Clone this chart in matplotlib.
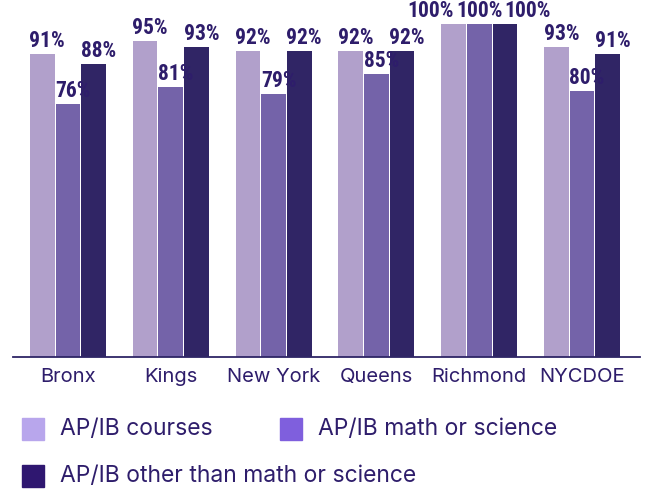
import matplotlib
matplotlib.use("Agg")
import matplotlib.pyplot as plt
from matplotlib.patches import Rectangle
import numpy as np

boroughs = ["Bronx", "Kings", "New York", "Queens", "Richmond", "NYCDOE"]
series = ["AP/IB courses", "AP/IB math or science", "AP/IB other than math or science"]
courses = [91, 95, 92, 92, 100, 93]
math_sci = [76, 81, 79, 85, 100, 80]
other = [88, 93, 92, 92, 100, 91]

bar_colors = ["#b1a0cb", "#7463a9", "#302565"]
legend_colors = ["#b8a6ec", "#7f5fdd", "#2f1770"]
text_color = "#2e1d6b"

fig = plt.figure(figsize=(6.46, 4.91), dpi=100)
ax = fig.add_axes([13 / 646, 134 / 491, 627 / 646, 357 / 491])

x = np.arange(len(boroughs))
width = 0.24
step = 0.25
for i, vals in enumerate([courses, math_sci, other]):
    pos = x + (i - 1) * step
    ax.bar(pos, vals, width=width, color=bar_colors[i], zorder=2)
    for px, v in zip(pos, vals):
        label = "{}%".format(v)
        # three-digit labels are wider than a bar, push the outer ones apart
        dx = (i - 1) * 23 if len(label) > 3 else 5
        ax.annotate(label, (px, v), xytext=(dx, 2), textcoords="offset pixels",
                    ha="center", va="bottom", fontsize=15.5, fontweight="bold",
                    family=["Roboto Condensed", "DejaVu Sans"], color=text_color)

ax.set_xlim(-0.535, 5.564)
ax.set_ylim(0, 107.2)
ax.set_xticks(x)
ax.set_xticklabels(boroughs, family="Inter", fontsize=14.5, color=text_color)
ax.tick_params(axis="x", length=0, pad=8)
ax.set_yticks([])
for s in ["top", "right", "left"]:
    ax.spines[s].set_visible(False)
ax.spines["bottom"].set_color("#2e2566")
ax.spines["bottom"].set_linewidth(1.3)
ax.spines["bottom"].set_zorder(3)

# legend drawn by hand: two items on the first row, one on the second
legend_spots = [(22, 418), (280, 418), (22, 465)]
for (lx, ly), name, c in zip(legend_spots, series, legend_colors):
    fig.add_artist(Rectangle((lx / 646, 1 - (ly + 22) / 491), 22 / 646, 22 / 491,
                             transform=fig.transFigure, color=c))
    fig.text((lx + 38) / 646, 1 - (ly + 11) / 491, name, va="center", ha="left",
             family="Inter", fontsize=16.5, color=text_color)

plt.savefig("out.png", dpi=100)
